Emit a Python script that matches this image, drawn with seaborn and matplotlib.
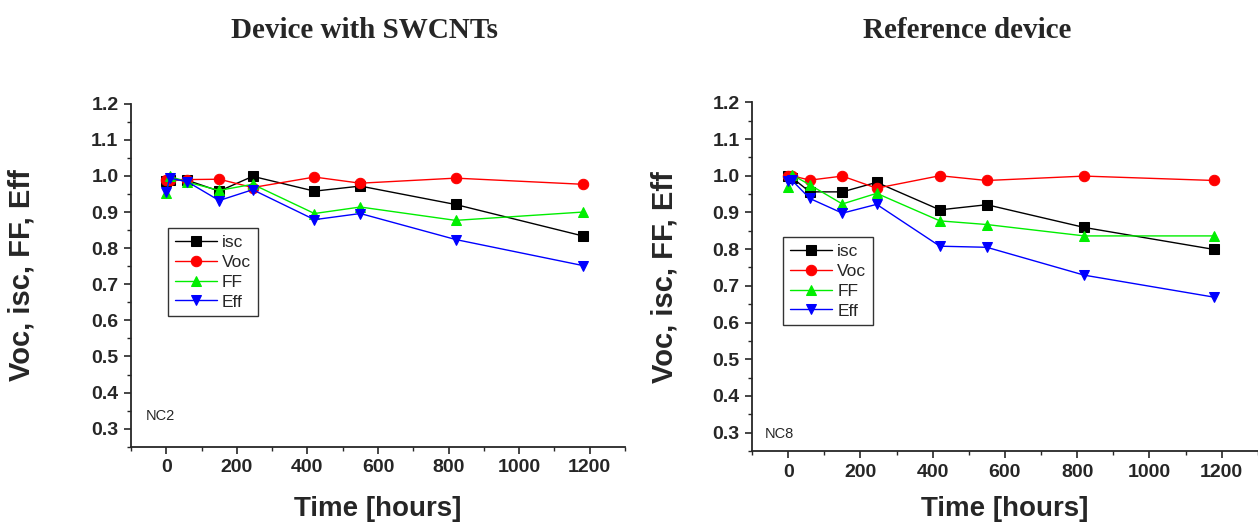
import matplotlib
matplotlib.use("Agg")
import matplotlib.pyplot as plt
from matplotlib.ticker import MultipleLocator, FormatStrFormatter
import seaborn as sns
import pandas as pd

sns.set_style("ticks")
plt.rcParams["font.family"] = ["Liberation Sans", "DejaVu Sans"]

# Aging time points (hours)
time_hours = [0, 10, 60, 150, 245, 420, 550, 820, 1180]

# Device with SWCNTs (NC2), normalised parameters
nc2_isc = [0.986, 0.990, 0.988, 0.958, 0.999, 0.958, 0.972, 0.921, 0.834]
nc2_voc = [0.988, 0.990, 0.990, 0.991, 0.968, 0.997, 0.980, 0.994, 0.977]
nc2_ff = [0.953, 0.999, 0.983, 0.960, 0.977, 0.896, 0.914, 0.877, 0.900]
nc2_eff = [0.956, 0.994, 0.984, 0.932, 0.962, 0.879, 0.896, 0.824, 0.752]

# Reference device (NC8), normalised parameters
nc8_isc = [1.000, 0.995, 0.956, 0.956, 0.982, 0.907, 0.921, 0.859, 0.799]
nc8_voc = [1.000, 1.000, 0.988, 0.999, 0.966, 1.000, 0.987, 0.999, 0.987]
nc8_ff = [0.970, 1.003, 0.975, 0.923, 0.952, 0.877, 0.867, 0.836, 0.836]
nc8_eff = [0.986, 0.988, 0.938, 0.898, 0.922, 0.808, 0.805, 0.729, 0.669]

series_names = ["isc", "Voc", "FF", "Eff"]
series_colors = ["#000000", "#ff0000", "#00ee00", "#0000ff"]
series_markers = ["s", "o", "^", "v"]

panel_titles = ["Device with SWCNTs", "Reference device"]
panel_tags = ["NC2", "NC8"]
panel_data = [
    [nc2_isc, nc2_voc, nc2_ff, nc2_eff],
    [nc8_isc, nc8_voc, nc8_ff, nc8_eff],
]

fig = plt.figure(figsize=(12.58, 5.22), dpi=100)
ax_rects = [
    [0.1041, 0.1442, 0.3927, 0.6570],
    [0.5978, 0.1360, 0.4020, 0.6680],
]
legend_pos = [(0.075, 0.638), (0.062, 0.614)]
tag_pos = [(0.03, 0.09), (0.025, 0.05)]
title_x = [0.290, 0.769]
xlabel_pad = [14, 11]
ylabel_pad = [40, 24]

for p in range(2):
    ax = fig.add_axes(ax_rects[p])
    for name, vals, col, mk in zip(series_names, panel_data[p], series_colors, series_markers):
        df = pd.DataFrame({"t": time_hours, "v": vals})
        sns.lineplot(data=df, x="t", y="v", ax=ax, color=col, marker=mk,
                     markersize=7.5, markeredgecolor=col, linewidth=1.0,
                     estimator=None, sort=False, label=name)
    ax.set_xlim(-100, 1300)
    ax.set_ylim(0.25, 1.2)
    ax.xaxis.set_major_locator(MultipleLocator(200))
    ax.xaxis.set_minor_locator(MultipleLocator(100))
    ax.yaxis.set_major_locator(MultipleLocator(0.1))
    ax.yaxis.set_minor_locator(MultipleLocator(0.05))
    ax.yaxis.set_major_formatter(FormatStrFormatter("%.1f"))
    ax.set_yticks([0.3, 0.4, 0.5, 0.6, 0.7, 0.8, 0.9, 1.0, 1.1, 1.2])
    sns.despine(ax=ax)
    for s in ("left", "bottom"):
        ax.spines[s].set_linewidth(1.3)
    ax.tick_params(which="major", length=5, width=1.2, direction="out",
                   labelsize=14, pad=4)
    ax.tick_params(which="minor", length=3, width=1.0, direction="out")
    for lbl in ax.get_xticklabels() + ax.get_yticklabels():
        lbl.set_fontweight("bold")
    ax.set_xlabel("Time [hours]", fontsize=20, fontweight="bold", labelpad=xlabel_pad[p])
    ax.set_ylabel("Voc, isc, FF, Eff", fontsize=21, fontweight="bold", labelpad=ylabel_pad[p])
    ax.text(tag_pos[p][0], tag_pos[p][1], panel_tags[p], transform=ax.transAxes,
            fontsize=10.5, ha="left", va="center")
    leg = ax.legend(loc="upper left", bbox_to_anchor=legend_pos[p], fontsize=12.5,
                    frameon=True, fancybox=False, framealpha=1, edgecolor="#333333",
                    handlelength=2.4, handletextpad=0.3, borderpad=0.4,
                    labelspacing=0.27, borderaxespad=0)
    leg.get_frame().set_linewidth(1.0)
    fig.text(title_x[p], 0.942, panel_titles[p], ha="center", va="center",
             fontsize=21, fontweight="bold", family=["Liberation Serif", "DejaVu Serif"])

fig.savefig("out.png", dpi=100)
